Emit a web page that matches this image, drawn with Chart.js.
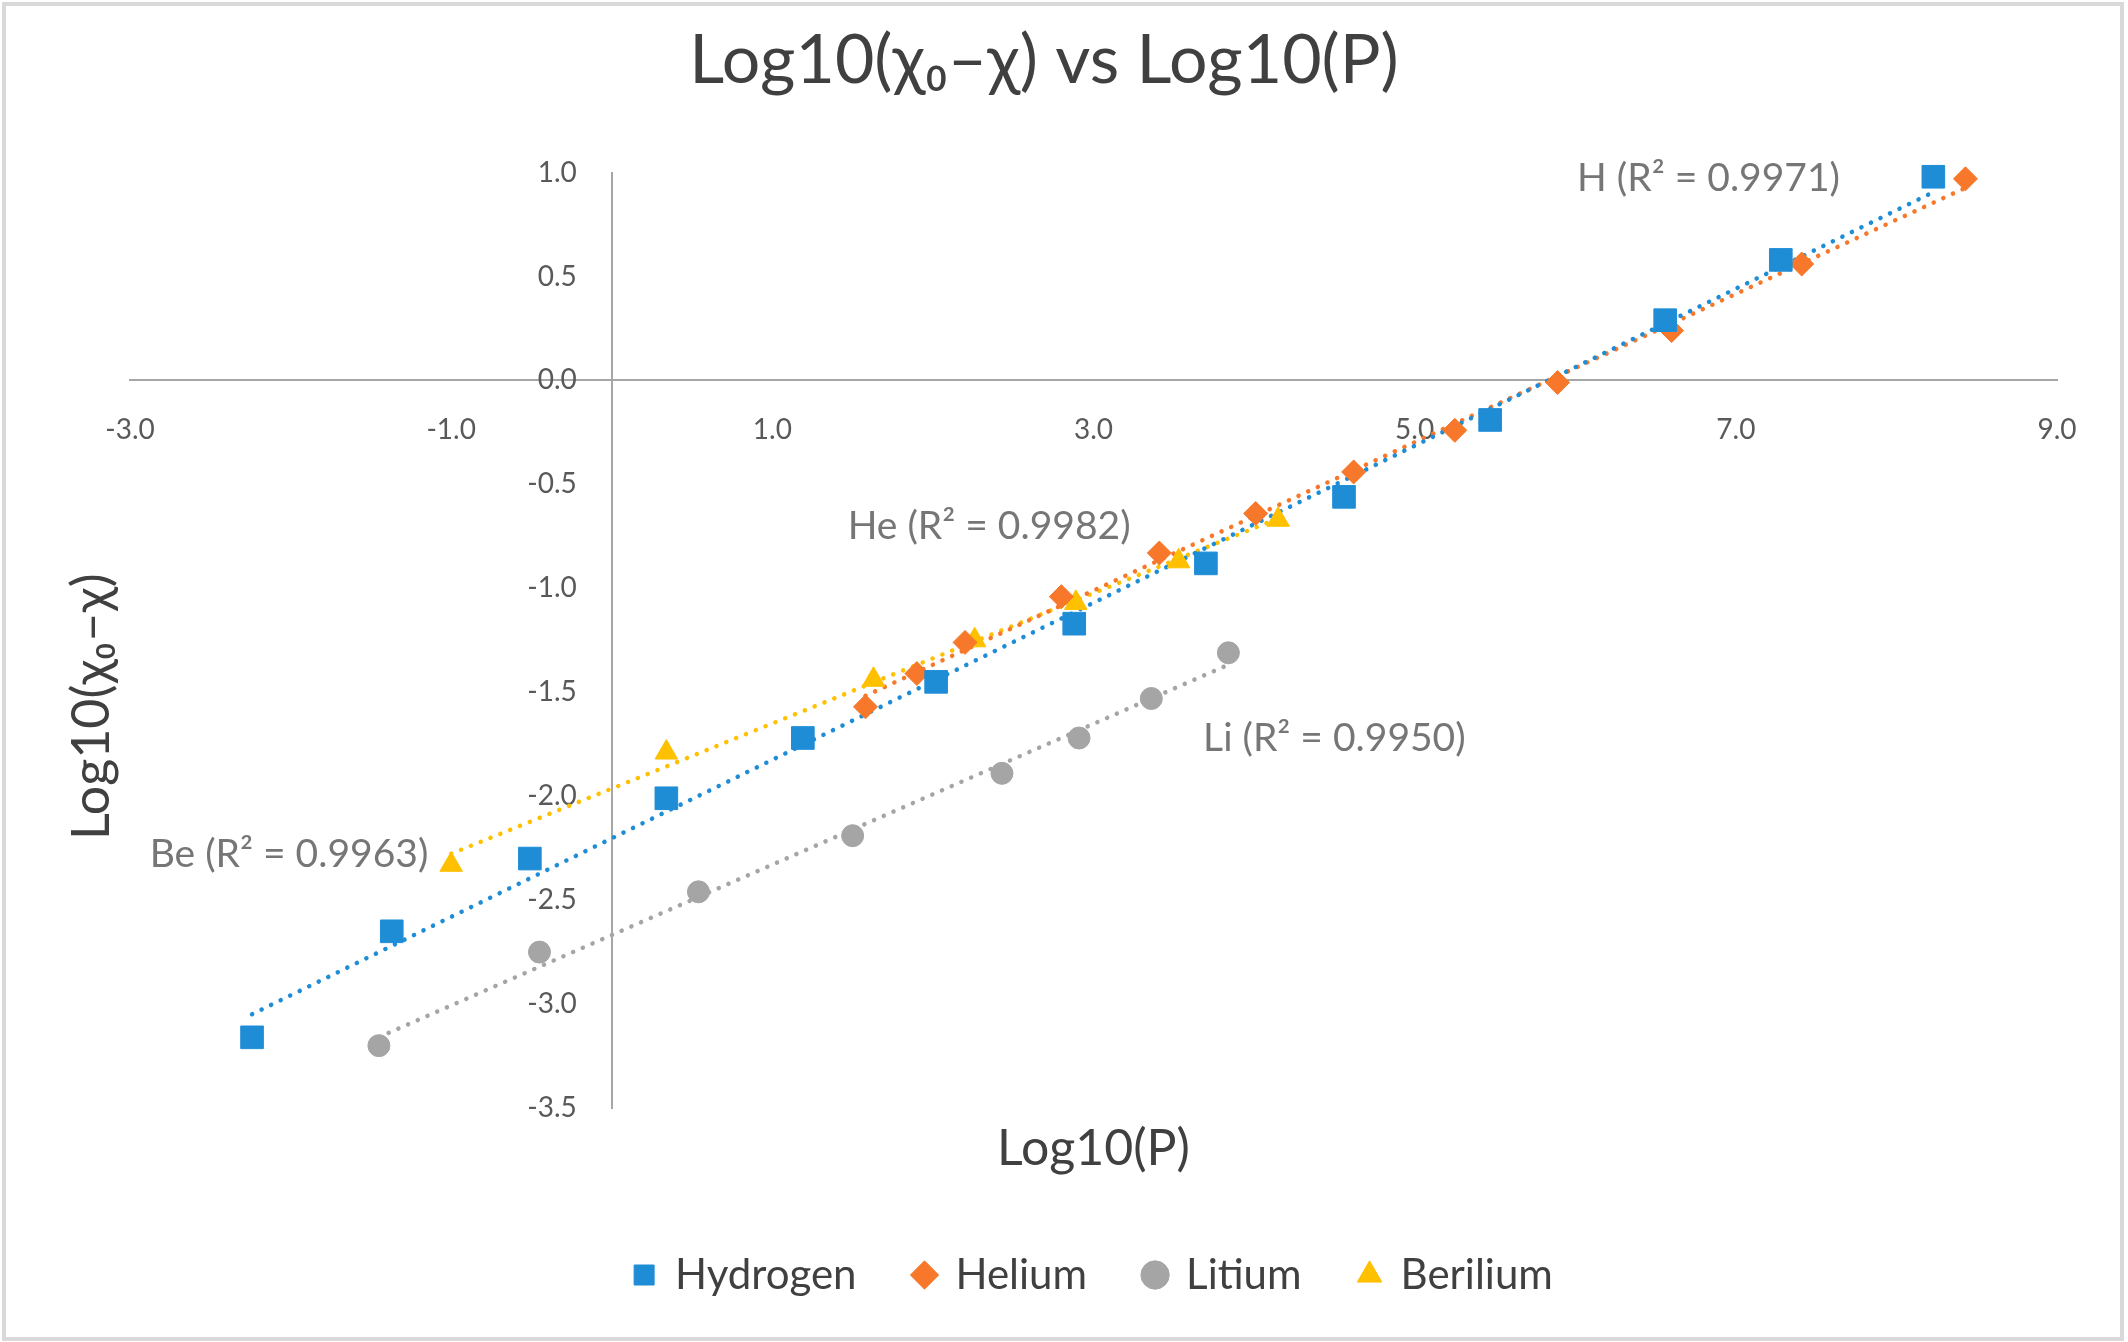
<!DOCTYPE html>
<html lang="en">
<head>
<meta charset="UTF-8">
<title>Log10(χ0–χ) vs Log10(P)</title>
<script src="https://cdn.jsdelivr.net/npm/chart.js@4.4.1/dist/chart.umd.min.js"></script>
<style>
	html, body { margin: 0; padding: 0; background: #fff; }
	#wrap { width: 2128px; height: 1342px; }
</style>
</head>
<body>
<div id="wrap"><canvas id="myChart"></canvas></div>

<script>
	// values
	const seriesNames = ['Hydrogen', 'Helium', 'Litium', 'Berilium']
	const hydrogenX = [-2.24, -1.37, -0.51, 0.34, 1.19, 2.02, 2.88, 3.70, 4.56, 5.47, 6.56, 7.28, 8.23]
	const hydrogenY = [-3.16, -2.65, -2.30, -2.01, -1.72, -1.45, -1.17, -0.88, -0.56, -0.19, 0.29, 0.58, 0.98]
	const heliumX = [1.58, 1.90, 2.20, 2.80, 3.41, 4.01, 4.62, 5.25, 5.89, 6.60, 7.41, 8.43]
	const heliumY = [-1.57, -1.41, -1.26, -1.04, -0.83, -0.64, -0.44, -0.24, -0.01, 0.24, 0.56, 0.97]
	const litiumX = [-1.45, -0.45, 0.54, 1.50, 2.43, 2.91, 3.36, 3.84]
	const litiumY = [-3.20, -2.75, -2.46, -2.19, -1.89, -1.72, -1.53, -1.31]
	const beriliumX = [-1.00, 0.34, 1.63, 2.26, 2.89, 3.53, 4.15]
	const beriliumY = [-2.33, -1.79, -1.44, -1.25, -1.07, -0.87, -0.67]

	const r2Labels = ['H (R² = 0.9971)', 'He (R² = 0.9982)', 'Li (R² = 0.9950)', 'Be (R² = 0.9963)']
	const r2At = [[6.83, 0.97], [2.35, -0.70], [4.50, -1.72], [-2.01, -2.28]]

	const FONT = "Lato, 'DejaVu Sans', sans-serif"
	const colors = ['#1f8dd6', '#f7782a', '#a5a5a5', '#ffc000']
	const styles = ['rect', 'rectRot', 'circle', 'triangle']
	const radii = [16, 12, 11, 13]

	function points(xs, ys) {
		return xs.map((x, i) => ({x: x, y: ys[i]}))
	}

	// least squares line, drawn from the first to the last x like the Excel trendline
	function trend(xs, ys) {
		const n = xs.length
		const mx = xs.reduce((a, b) => a + b, 0) / n
		const my = ys.reduce((a, b) => a + b, 0) / n
		let sxy = 0, sxx = 0
		for (let i = 0; i < n; i++) {
			sxy += (xs[i] - mx) * (ys[i] - my)
			sxx += (xs[i] - mx) * (xs[i] - mx)
		}
		const b = sxy / sxx
		const lo = Math.min(...xs), hi = Math.max(...xs)
		return [{x: lo, y: my + b * (lo - mx)}, {x: hi, y: my + b * (hi - mx)}]
	}

	const allX = [hydrogenX, heliumX, litiumX, beriliumX]
	const allY = [hydrogenY, heliumY, litiumY, beriliumY]

	var datasets = []
	seriesNames.forEach(function(name, i) {
		datasets.push({
			label: name,
			data: points(allX[i], allY[i]),
			pointStyle: styles[i],
			pointRadius: radii[i],
			pointHoverRadius: radii[i],
			backgroundColor: colors[i],
			borderColor: colors[i],
			borderWidth: 1,
			clip: false,
			order: 0
		})
	})
	seriesNames.forEach(function(name, i) {
		datasets.push({
			label: name + ' trend',
			data: trend(allX[i], allY[i]),
			showLine: true,
			pointRadius: 0,
			borderColor: colors[i],
			borderWidth: 4.5,
			borderDash: [0.1, 10.5],
			borderCapStyle: 'round',
			fill: false,
			clip: false,
			order: 5
		})
	})

	const decor = {
		id: 'decor',
		beforeDraw(chart) {
			const c = chart.ctx
			c.save()
			c.fillStyle = '#fff'
			c.fillRect(0, 0, chart.width, chart.height)
			c.strokeStyle = '#d9d9d9'
			c.lineWidth = 4
			c.strokeRect(4, 4, chart.width - 10, chart.height - 7)
			c.restore()
		},
		beforeDatasetsDraw(chart) {
			// y tick labels sit left of the crossing axis, Chart.js puts them on the line
			const c = chart.ctx
			const xs = chart.scales.x, ys = chart.scales.y
			const x0 = xs.getPixelForValue(0) - 35
			c.save()
			c.font = '28px ' + FONT
			c.fillStyle = '#595959'
			c.textAlign = 'right'
			c.textBaseline = 'middle'
			ys.ticks.forEach(function(t) {
				c.fillText(t.value.toFixed(1), x0, ys.getPixelForValue(t.value))
			})
			c.restore()
		},
		afterDraw(chart) {
			const c = chart.ctx
			const xs = chart.scales.x, ys = chart.scales.y
			const area = chart.chartArea
			c.save()
			c.font = '39px ' + FONT
			c.fillStyle = '#767676'
			c.textAlign = 'center'
			c.textBaseline = 'middle'
			r2Labels.forEach(function(t, i) {
				c.fillText(t, xs.getPixelForValue(r2At[i][0]), ys.getPixelForValue(r2At[i][1]))
			})
			// y axis title
			c.translate(chart.scales.y2.left + 61, area.top + (area.bottom - area.top) * 0.571)
			c.rotate(-Math.PI / 2)
			c.font = '52px ' + FONT
			c.fillStyle = '#404040'
			c.fillText('Log10(χ₀–χ)', 0, 0)
			c.restore()
		}
	}

	var ctx = document.getElementById('myChart').getContext('2d')

	var chart = new Chart(ctx, {
		type: 'scatter',
		data: {datasets: datasets},
		plugins: [decor],
		options: {
			responsive: true,
			maintainAspectRatio: false,
			animation: false,
			layout: {
				padding: {top: 0, left: 31, right: 71, bottom: 36}
			},
			scales: {
				x: {
					axis: 'x',
					type: 'linear',
					min: -3,
					max: 9,
					position: {y: 0},
					grid: {display: false, drawTicks: false},
					border: {display: true, color: '#a6a6a6', width: 2},
					ticks: {
						stepSize: 2,
						padding: 33,
						autoSkip: false,
						maxRotation: 0,
						color: '#595959',
						font: {family: FONT, size: 28},
						callback: v => v.toFixed(1)
					}
				},
				y: {
					axis: 'y',
					type: 'linear',
					min: -3.5,
					max: 1.0,
					position: {x: 0},
					grid: {display: false, drawTicks: false},
					border: {display: true, color: '#a6a6a6', width: 2},
					ticks: {
						stepSize: 0.5,
						autoSkip: false,
						display: false
					}
				},
				x2: {
					type: 'linear',
					position: 'bottom',
					min: 0,
					max: 1,
					grid: {display: false, drawTicks: false},
					border: {display: false},
					ticks: {display: false},
					title: {
						display: true,
						text: 'Log10(P)',
						color: '#404040',
						font: {family: FONT, size: 50},
						padding: {top: 11, bottom: 17}
					}
				},
				y2: {
					type: 'linear',
					position: 'left',
					min: 0,
					max: 1,
					grid: {display: false, drawTicks: false},
					border: {display: false},
					ticks: {display: false},
					afterFit: function(scale) { scale.width = 99 }
				}
			},
			plugins: {
				title: {
					display: true,
					text: 'Log10(χ₀–χ) vs Log10(P)',
					color: '#404040',
					font: {family: FONT, size: 68, weight: 'normal'},
					padding: {top: 20, bottom: 71}
				},
				legend: {
					position: 'bottom',
					fullSize: false,
					labels: {
						usePointStyle: true,
						boxWidth: 20,
						boxHeight: 20,
						padding: 58,
						color: '#404040',
						font: {family: FONT, size: 42},
						filter: item => item.datasetIndex < 4
					}
				},
				tooltip: {enabled: false}
			}
		}
	})
</script>
</body>
</html>
